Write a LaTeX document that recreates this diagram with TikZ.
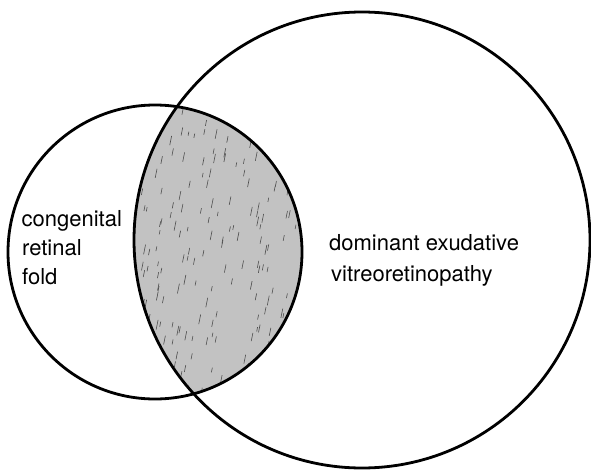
\documentclass[tikz,border=0pt]{standalone}
\usepackage{fontspec}
\setmainfont{TeX Gyre Heros}
\tikzset{
  ring/.style={draw=black, line width=2.8pt},
  lbl/.style={anchor=base west, inner sep=0pt, font=\fontsize{22}{29}\selectfont},
  hatch/.style={draw=black!70, line width=0.6pt}
}
\begin{document}
\begin{tikzpicture}[x=1pt,y=-1pt]
\useasboundingbox (0,0) rectangle (591,471);
\fill[white] (0,0) rectangle (591,471);
% lens fill
\begin{scope}
  \clip (155,252) circle[radius=147pt];
  \fill[black!24] (362,240) circle[radius=228pt];
  \clip (362,240) circle[radius=228pt];
  \pgfmathsetseed{7}
  \foreach \i in {1,...,200} {
    \pgfmathsetmacro\rx{135+rnd*170}
    \pgfmathsetmacro\ry{105+rnd*295}
    \pgfmathsetmacro\rl{4+rnd*6}
    \draw[hatch] (\rx,\ry) -- ++(0.2*\rl,-\rl);
  }
\end{scope}
% circles
\draw[ring] (155,252) circle[radius=147pt];
\draw[ring] (362,240) circle[radius=228pt];
% labels
\node[lbl] (c1) at (21.5,226) {congenital};
\node[lbl] (c2) at (22,255) {retinal};
\node[lbl] (c3) at (22,284) {fold};
\node[lbl] (d1) at (329,250.5) {dominant exudative};
\node[lbl] (d2) at (331,281.5) {vitreoretinopathy};
\end{tikzpicture}
\end{document}
